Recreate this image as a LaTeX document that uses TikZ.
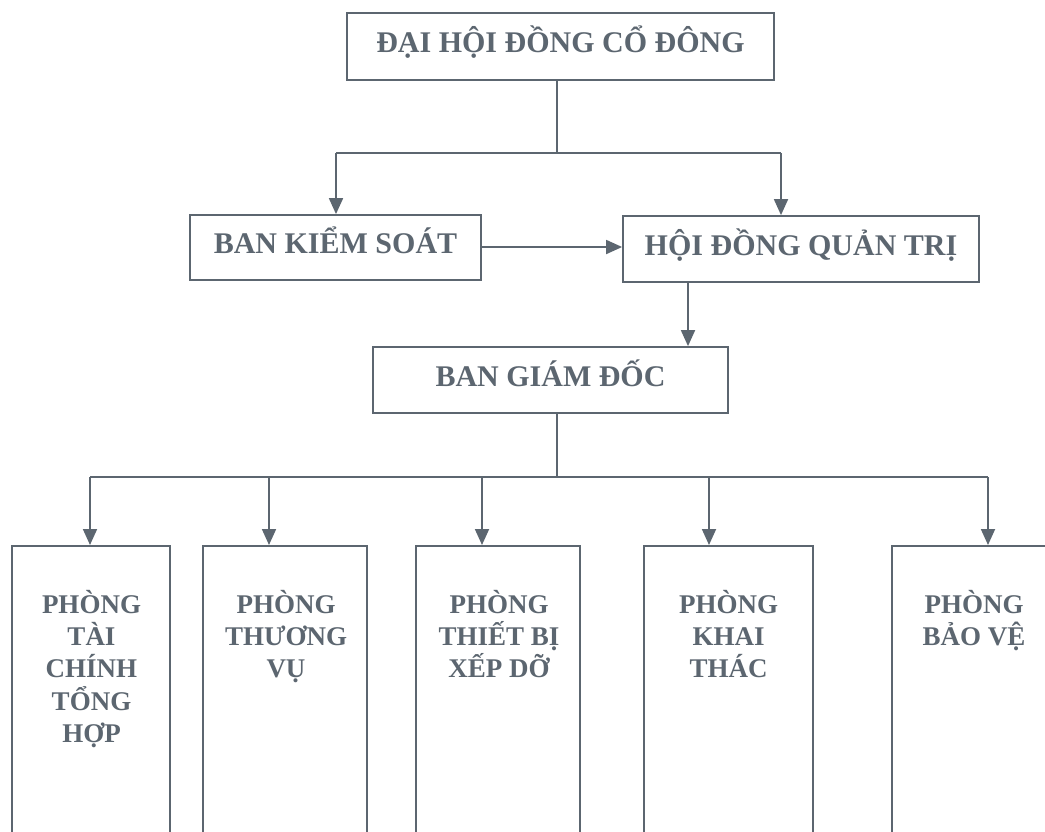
\documentclass[tikz,border=0pt]{standalone}
\usepackage{fontspec}
\setmainfont{Liberation Serif}
\usetikzlibrary{arrows.meta}
\definecolor{ink}{RGB}{92,102,112}
\begin{document}
\begin{tikzpicture}[x=1pt,y=-1pt,
  box/.style={draw=ink,line width=1.8pt,inner sep=0pt,text=ink,
    font=\fontsize{30}{34}\selectfont\bfseries,text height=12pt,text depth=0pt},
  dept/.style={draw=ink,line width=1.8pt,inner sep=0pt,anchor=north,minimum height=340pt},
  dtext/.style={anchor=north,align=center,inner sep=0pt,text=ink,
    font=\fontsize{27}{32.3}\selectfont\bfseries},
  ln/.style={draw=ink,line width=1.8pt},
  arr/.style={draw=ink,line width=1.8pt,-{Triangle[width=14pt,length=16pt]}}]
\useasboundingbox (0,0) rectangle (1045,831);
\clip (0,0) rectangle (1045,831);
\fill[white] (0,0) rectangle (1045,831);

% top level
\node[box,minimum width=427pt,minimum height=67pt] (dh) at (560.5,46.5) {ĐẠI HỘI ĐỒNG CỔ ĐÔNG};
\node[box,minimum width=291pt,minimum height=65pt] (bks) at (335.5,247.5) {BAN KIỂM SOÁT};
\node[box,minimum width=356pt,minimum height=66pt] (hdqt) at (801,249) {HỘI ĐỒNG QUẢN TRỊ};
\node[box,minimum width=355pt,minimum height=66pt] (bgd) at (550.5,380) {BAN GIÁM ĐỐC};

% departments
\node[dept,minimum width=158pt] (p1) at (91,545) {};
\node[dept,minimum width=164pt] (p2) at (285,545) {};
\node[dept,minimum width=164pt] (p3) at (498,545) {};
\node[dept,minimum width=169pt] (p4) at (728.5,545) {};
\node[dept,minimum width=164pt] (p5) at (974,545) {};

\node[dtext] (t1) at (91.5,590) {PHÒNG\\TÀI\\CHÍNH\\TỔNG\\HỢP};
\node[dtext] (t2) at (286,590) {PHÒNG\\THƯƠNG\\VỤ};
\node[dtext] (t3) at (499,590) {PHÒNG\\THIẾT BỊ\\XẾP DỠ};
\node[dtext] (t4) at (728.5,590) {PHÒNG\\KHAI\\THÁC};
\node[dtext] (t5) at (974,590) {PHÒNG\\BẢO VỆ};

% junctions
\coordinate (s1) at (557,80);
\coordinate (j1) at (557,153);
\coordinate (jl) at (336,153);
\coordinate (jr) at (781,153);
\coordinate (s2) at (557,413);
\coordinate (k0) at (557,477);
\coordinate (k1) at (90,477);
\coordinate (k2) at (269,477);
\coordinate (k3) at (482,477);
\coordinate (k4) at (709,477);
\coordinate (k5) at (988,477);
\coordinate (h1) at (688,282);

% connectors
\draw[ln] (s1) -- (j1);
\draw[ln] (jl) -- (jr);
\draw[arr] (jl) -- (jl |- bks.north);
\draw[arr] (jr) -- (jr |- hdqt.north);
\draw[arr] ([yshift=0.5pt]bks.east) -- ([yshift=0.5pt]bks.east -| hdqt.west);
\draw[arr] (h1) -- (h1 |- bgd.north);
\draw[ln] (s2) -- (k0);
\draw[ln] (k1) -- (k5);
\draw[arr] (k1) -- (k1 |- p1.north);
\draw[arr] (k2) -- (k2 |- p2.north);
\draw[arr] (k3) -- (k3 |- p3.north);
\draw[arr] (k4) -- (k4 |- p4.north);
\draw[arr] (k5) -- (k5 |- p5.north);
\end{tikzpicture}
\end{document}
